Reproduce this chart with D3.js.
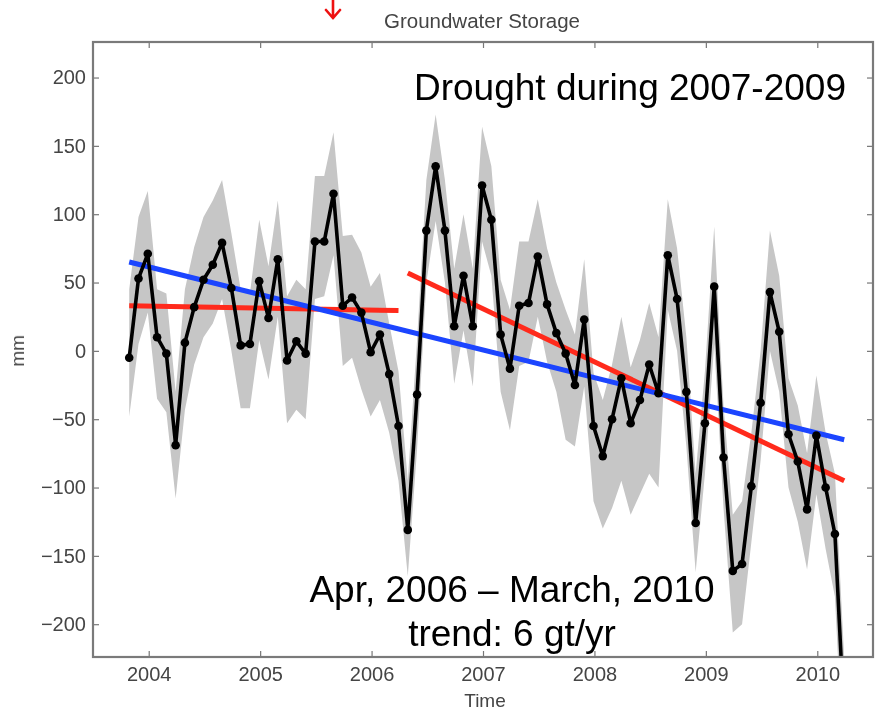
<!DOCTYPE html>
<html>
<head>
<meta charset="utf-8">
<script src="https://cdn.jsdelivr.net/npm/d3@7"></script>
<style>
  html, body { margin: 0; padding: 0; background: #fff; }
  svg { display: block; }
</style>
</head>
<body>
<svg id="chart" width="884" height="713"></svg>
<script>
// Monthly groundwater storage anomaly (mm), one sample per month from Oct 2003
const firstMonth = 2003.825;   // decimal year of the first sample
const storage = [
  -5, 53, 71, 10, -2, -69, 6, 32, 52, 63, 79, 46,
  4, 5, 51, 24, 67, -7, 7, -2, 80, 80, 115, 33,
  39, 28, -1, 12, -17, -55, -131, -32, 88, 135, 88, 18,
  55, 18, 121, 96, 12, -13, 33, 35, 69, 34, 13, -2,
  -25, 23, -55, -77, -50, -20, -53, -36, -10, -31, 70, 38,
  -30, -126, -53, 47, -78, -161, -156, -99, -38, 43, 14, -61,
  -81, -116, -62, -100, -134, -270
];
// Uncertainty envelope around each monthly value (mm)
const lowerBound = [
  -48, 5, 28, -35, -45, -108, -43, -10, 10, 20, 38, 0,
  -42, -42, 8, -21, 25, -53, -43, -50, 38, 40, 70, -11,
  -5, -28, -48, -36, -60, -95, -165, -72, 50, 95, 50, -24,
  15, -26, 80, 55, -30, -58, -11, -8, 25, -8, -30, -65,
  -70, -26, -110, -130, -115, -95, -120, -105, -90, -100, 30, 0,
  -70, -162, -90, 5, -115, -206, -200, -140, -80, 0, -30, -100,
  -125, -160, -105, -145, -180, -315
];
const upperBound = [
  45, 98, 117, 45, 42, -30, 45, 76, 98, 110, 125, 86,
  45, 42, 96, 62, 110, 40, 52, 45, 128, 128, 160, 84,
  85, 72, 47, 57, 20, -15, -95, 8, 125, 173, 125, 60,
  100, 60, 164, 135, 52, 30, 80, 80, 111, 75, 50, 30,
  12, 67, -16, -36, -10, 25, -12, 8, 35, 10, 111, 75,
  10, -90, -15, 91, -40, -120, -110, -60, 0, 88, 55, -20,
  -40, -75, -18, -60, -90, -225
];

// Fitted linear trends: first and last sample index, and value at each end (mm)
const trendWhole = { from: 0, to: 77, values: [65, -65] };
const trendBefore = { from: 0, to: 29, values: [33, 29.5] };
const trendAfter = { from: 30, to: 77, values: [57, -95] };

const yTickValues = [-200, -150, -100, -50, 0, 50, 100, 150, 200];
const xTickValues = [2004, 2005, 2006, 2007, 2008, 2009, 2010];

const chartTitle = "Groundwater Storage";
const xTitle = "Time";
const yTitle = "mm";
const droughtNote = "Drought during 2007-2009";
const trendNote = ["Apr, 2006 \u2013 March, 2010", "trend: 6 gt/yr"];

// ---- layout ----
const W = 884, H = 713;
const plot = { left: 93, right: 873, top: 42, bottom: 657 };
const labelFont = "'Liberation Sans', Arial, Helvetica, sans-serif";
const axisGrey = "#444";

const svg = d3.select("#chart");
svg.append("rect").attr("width", W).attr("height", H).attr("fill", "#fff");

const defs = svg.append("defs");
defs.append("filter").attr("id", "soft")
  .attr("x", "-5%").attr("y", "-5%").attr("width", "110%").attr("height", "110%")
  .append("feGaussianBlur").attr("stdDeviation", 0.75);
defs.append("clipPath").attr("id", "plotClip")
  .append("rect")
  .attr("x", plot.left).attr("y", plot.top)
  .attr("width", plot.right - plot.left).attr("height", plot.bottom - plot.top);

const x = d3.scaleLinear().domain([2003.5, 2010.5]).range([plot.left, plot.right]);
const y = d3.scaleLinear().domain([-224, 226]).range([plot.bottom, plot.top]);

const timeAt = i => firstMonth + i / 12;
const series = storage.map((v, i) => ({ t: timeAt(i), v, lo: lowerBound[i], hi: upperBound[i] }));

const chart = svg.append("g").attr("filter", "url(#soft)");
const inner = chart.append("g").attr("clip-path", "url(#plotClip)");

// uncertainty band
inner.append("path")
  .datum(series)
  .attr("fill", "#c6c6c6")
  .attr("d", d3.area().x(d => x(d.t)).y0(d => y(d.lo)).y1(d => y(d.hi)));

// trend lines
function trendLine(tr, colour) {
  const pts = [
    { t: timeAt(tr.from), v: tr.values[0] },
    { t: timeAt(tr.to), v: tr.values[1] }
  ];
  inner.append("path")
    .datum(pts)
    .attr("fill", "none")
    .attr("stroke", colour)
    .attr("stroke-width", 5)
    .attr("d", d3.line().x(d => x(d.t)).y(d => y(d.v)));
}
trendLine(trendBefore, "#ff2a1a");
trendLine(trendAfter, "#ff2a1a");
trendLine(trendWhole, "#1a44ff");

// storage series
inner.append("path")
  .datum(series)
  .attr("fill", "none")
  .attr("stroke", "#000")
  .attr("stroke-width", 3.6)
  .attr("stroke-linejoin", "round")
  .attr("d", d3.line().x(d => x(d.t)).y(d => y(d.v)));

inner.append("g").selectAll("circle")
  .data(series)
  .join("circle")
  .attr("cx", d => x(d.t))
  .attr("cy", d => y(d.v))
  .attr("r", 4.3)
  .attr("fill", "#000");

// axes with inward ticks on all four sides
function styleAxis(g) {
  g.select(".domain").remove();
  g.selectAll(".tick line").attr("stroke", "#777").attr("stroke-width", 1.2);
  g.selectAll(".tick text")
    .attr("fill", axisGrey)
    .attr("font-family", labelFont)
    .attr("font-size", 20);
}

chart.append("g")
  .attr("transform", `translate(${plot.left},0)`)
  .call(d3.axisLeft(y).tickValues(yTickValues).tickSizeInner(-6).tickSizeOuter(0).tickPadding(7))
  .call(styleAxis);

chart.append("g")
  .attr("transform", `translate(${plot.right},0)`)
  .call(d3.axisRight(y).tickValues(yTickValues).tickSizeInner(-6).tickSizeOuter(0).tickFormat(""))
  .call(styleAxis);

chart.append("g")
  .attr("transform", `translate(0,${plot.bottom})`)
  .call(d3.axisBottom(x).tickValues(xTickValues).tickFormat(d3.format("d"))
    .tickSizeInner(-6).tickSizeOuter(0).tickPadding(10))
  .call(styleAxis);

chart.append("g")
  .attr("transform", `translate(0,${plot.top})`)
  .call(d3.axisTop(x).tickValues(xTickValues).tickSizeInner(-6).tickSizeOuter(0).tickFormat(""))
  .call(styleAxis);

// frame
chart.append("rect")
  .attr("x", plot.left).attr("y", plot.top)
  .attr("width", plot.right - plot.left).attr("height", plot.bottom - plot.top)
  .attr("fill", "none")
  .attr("stroke", "#7a7a7a")
  .attr("stroke-width", 2.2);

// titles
chart.append("text")
  .attr("x", 482).attr("y", 28)
  .attr("text-anchor", "middle")
  .attr("font-family", labelFont).attr("font-size", 20.5)
  .attr("fill", axisGrey)
  .text(chartTitle);

chart.append("text")
  .attr("x", 485).attr("y", 707)
  .attr("text-anchor", "middle")
  .attr("font-family", labelFont).attr("font-size", 19)
  .attr("fill", axisGrey)
  .text(xTitle);

chart.append("text")
  .attr("transform", `translate(24,${y(0)}) rotate(-90)`)
  .attr("text-anchor", "middle")
  .attr("font-family", labelFont).attr("font-size", 19)
  .attr("fill", axisGrey)
  .text(yTitle);

// annotations
svg.append("text")
  .attr("x", 414).attr("y", 100)
  .attr("font-family", labelFont).attr("font-size", 37)
  .attr("fill", "#000")
  .text(droughtNote);

svg.append("g")
  .attr("font-family", labelFont).attr("font-size", 37)
  .attr("fill", "#000")
  .attr("text-anchor", "middle")
  .selectAll("text")
  .data(trendNote)
  .join("text")
  .attr("x", 512)
  .attr("y", (d, i) => 602 + i * 44)
  .text(d => d);

// red arrow pointing at mid-2005 in the title row
const arrowX = 333;
svg.append("path")
  .attr("d", `M${arrowX},0 L${arrowX},18 M${arrowX - 7},10 L${arrowX},18 L${arrowX + 7},10`)
  .attr("fill", "none")
  .attr("stroke", "#ee1111")
  .attr("stroke-width", 2.6)
  .attr("stroke-linecap", "round")
  .attr("stroke-linejoin", "miter");
</script>
</body>
</html>
